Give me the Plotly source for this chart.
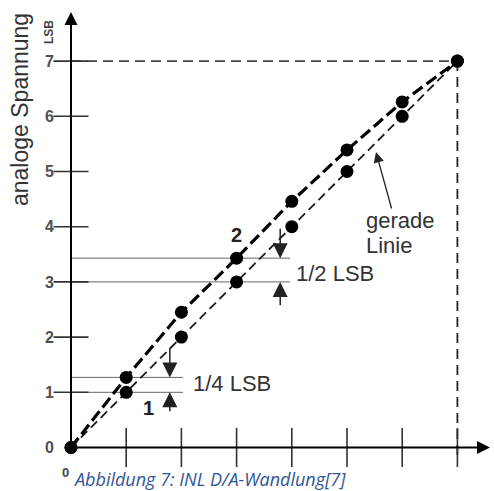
import plotly.graph_objects as go

# ---- data ----
codes = [0, 1, 2, 3, 4, 5, 6, 7]
ideal = [0, 1, 2, 3, 4, 5, 6, 7]
real = [0, 1.27, 2.45, 3.43, 4.46, 5.39, 6.26, 7]
y_ticks = [0, 1, 2, 3, 4, 5, 6, 7]
x_ticks = [1, 2, 3, 4, 5, 6, 7]

W, H = 494, 491
S = 55.2
X0PX, Y0PX = 71, 447.5
xr = [-X0PX / S, (W - X0PX) / S]
yr = [-(H - Y0PX) / S, Y0PX / S]

ink = "#1a1a1a"
grey = "#505050"
txt = "#333333"
fnt = "Liberation Sans, Arial, sans-serif"

fig = go.Figure()

# full-scale dashed guide lines
fig.add_trace(go.Scatter(x=[0, 7], y=[7, 7], mode="lines",
                         line=dict(color="#444", width=1.6, dash="10px,6px"), hoverinfo="skip"))
fig.add_trace(go.Scatter(x=[7, 7], y=[7, -0.22], mode="lines",
                         line=dict(color="#222", width=1.8, dash="10px,6px"), hoverinfo="skip"))

# helper horizontal lines
for yv, xe in [(1.0, 2.03), (1.27, 2.03), (3.0, 3.97), (3.43, 3.97)]:
    fig.add_trace(go.Scatter(x=[0, xe], y=[yv, yv], mode="lines",
                             line=dict(color="#666", width=1), hoverinfo="skip"))

# straight (ideal) line
fig.add_trace(go.Scatter(x=codes, y=ideal, mode="lines+markers",
                         line=dict(color=ink, width=1.8, dash="9px,5px"),
                         marker=dict(size=13, color="black"), cliponaxis=False))
# real characteristic
fig.add_trace(go.Scatter(x=codes, y=real, mode="lines+markers",
                         line=dict(color="black", width=3.2, dash="12px,5px"),
                         marker=dict(size=13, color="black"), cliponaxis=False))

# tick marks crossing the axes
fig.add_trace(go.Scatter(x=[0] * 7, y=y_ticks[1:], mode="markers",
                         marker=dict(symbol="line-ew", size=25, line=dict(color="#333", width=1.6)),
                         hoverinfo="skip", cliponaxis=False))
fig.add_trace(go.Scatter(x=x_ticks, y=[0] * 7, mode="markers",
                         marker=dict(symbol="line-ns", size=28, line=dict(color="#333", width=1.6)),
                         hoverinfo="skip", cliponaxis=False))

ann = []
# axes with arrowheads
ann.append(dict(x=0, y=(Y0PX - 12) / S, ax=0, ay=0, xref="x", yref="y", axref="x", ayref="y",
                text="", showarrow=True, arrowhead=2, arrowsize=1.3, arrowwidth=2, arrowcolor="black",
                standoff=0, startstandoff=0))
ann.append(dict(x=(490 - X0PX) / S, y=0, ax=0, ay=0, xref="x", yref="y", axref="x", ayref="y",
                text="", showarrow=True, arrowhead=2, arrowsize=1.3, arrowwidth=2, arrowcolor="black",
                standoff=0, startstandoff=0))

# measurement arrows
def arrow(x, y, ax, ay, size=2.0, w=1.5):
    ann.append(dict(x=x, y=y, ax=ax, ay=ay, xref="x", yref="y", axref="x", ayref="y",
                    text="", showarrow=True, arrowhead=2, arrowsize=size, arrowwidth=w,
                    arrowcolor="#222", standoff=0))

arrow(1.79, 1.27, 1.79, 1.83)
arrow(1.79, 1.0, 1.79, 0.63)
arrow(3.79, 3.43, 3.79, 3.99)
arrow(3.79, 3.0, 3.79, 2.55)
arrow((376 - X0PX) / S, (Y0PX - 152) / S, (392 - X0PX) / S, (Y0PX - 210) / S, size=1.6, w=1.3)

def px_text(t, xpx, ypx, size, color=txt, bold=False, xanchor="left", angle=0, italic=False, family=fnt):
    ann.append(dict(x=xpx / W, y=1 - ypx / H, xref="paper", yref="paper", text=t, showarrow=False,
                    xanchor=xanchor, yanchor="middle", textangle=angle,
                    font=dict(size=size, color=color, family=family,
                              weight="bold" if bold else "normal",
                              style="italic" if italic else "normal")))

px_text("1/4 LSB", 191, 383, 22)
px_text("1/2 LSB", 294, 273, 22)
px_text("gerade", 364, 221, 22)
px_text("Linie", 364, 246, 22)
px_text("2", 236, 235, 20, color="#222", bold=True, xanchor="center")
px_text("1", 148, 408, 20, color="#222", bold=True, xanchor="center")
px_text("analoge Spannung", 20, 110, 23, xanchor="center", angle=-90)
px_text("LSB", 49, 32, 12, color="#444", bold=True, xanchor="center", angle=-90)
px_text("0", 65, 472, 13, color="#444", bold=True, xanchor="center")
px_text("Abbildung 7: INL D/A-Wandlung[7]", 71, 479, 18, color="#2f5597", italic=True,
        family="Open Sans, sans-serif")

fig.update_layout(
    width=W, height=H, margin=dict(l=0, r=0, t=0, b=0),
    paper_bgcolor="white", plot_bgcolor="white", showlegend=False,
    xaxis=dict(range=xr, domain=[0, 1], showgrid=False, zeroline=False,
               showticklabels=False, ticks="", showline=False, fixedrange=True),
    yaxis=dict(range=yr, domain=[0, 1], anchor="free", position=X0PX / W,
               showgrid=False, zeroline=False, showline=False, ticks="",
               tickvals=y_ticks, ticktext=[str(v) for v in y_ticks],
               ticklabelstandoff=17,
               tickfont=dict(size=16, color=grey, family=fnt, weight="bold"), fixedrange=True),
    annotations=ann,
)

fig.write_html("out.html", config={"displayModeBar": False},
               post_script="document.body.style.margin='0';document.body.style.overflow='hidden';")
